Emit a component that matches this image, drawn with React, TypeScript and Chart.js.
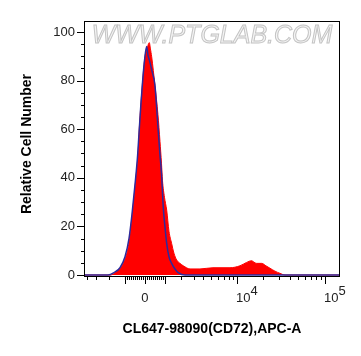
import React, { useEffect, useRef } from "react";
import { Chart, registerables } from "chart.js";

Chart.register(...registerables);

// Biexponential (arcsinh) display transform for the fluorescence axis
const WIDTH_C = 1830;
const toDisp = (v: number) => Math.asinh(v / WIDTH_C) / Math.LN10;

// Axis range (fluorescence intensity)
const X_MIN = -4300;
const X_MAX = 148000;
const Y_MIN = -0.4;
const Y_MAX = 104.5;

// Sample histogram (red, filled): x in display units, y in % of max
const sampleX = [-0.691, -0.396, -0.32, -0.246, -0.189, -0.151, -0.105, -0.076, -0.065, -0.045, -0.026, 0, 0.023, 0.049, 0.062, 0.076, 0.113, 0.147, 0.17, 0.187, 0.198, 0.221, 0.246, 0.272, 0.302, 0.328, 0.359, 0.396, 0.434, 0.51, 0.623, 0.77, 0.963, 1.076, 1.152, 1.208, 1.234, 1.265, 1.322, 1.37, 1.416, 1.472, 1.529, 1.586, 2.208];
const sampleY = [0, 0, 1.4, 4.8, 11.6, 22.6, 39, 51.4, 59.7, 70.8, 80, 89.8, 93, 95.6, 93, 89.8, 78, 66, 55, 46, 39, 32, 26.7, 18, 13, 9, 6.2, 4.8, 3.8, 2.5, 2.5, 3, 3, 3.8, 5.2, 5.9, 5.3, 4.8, 4.8, 3.8, 2.8, 1.6, 0.7, 0, 0];

// Control histogram (blue line)
const controlX = [-0.691, -0.419, -0.351, -0.283, -0.226, -0.181, -0.147, -0.108, -0.083, -0.065, -0.045, -0.026, -0.006, 0.019, 0.034, 0.049, 0.079, 0.113, 0.147, 0.17, 0.187, 0.207, 0.226, 0.246, 0.272, 0.302, 0.34, 0.377, 0.453, 2.208];
const controlY = [0, 0, 1, 3, 7.5, 15, 25, 39, 49.4, 59.7, 70.8, 80, 88, 94, 90.5, 88.5, 84, 78, 61, 49.4, 42, 28, 20, 13, 7.5, 4.8, 2.5, 1, 0, 0];

// X axis ticks (intensity values)
const xMajorTicks = [-1000, 0, 1000, 10000, 100000];
const xMinorTicks = [-4000, -3000, -2000, -900, -800, -700, -600, -500, -400, -300, -200, -100, 100, 200, 300, 400, 500, 600, 700, 800, 900, 2000, 3000, 4000, 5000, 6000, 7000, 8000, 9000, 20000, 30000, 40000, 50000, 60000, 70000, 80000, 90000];
const xTickLabels = [
  { v: 0, base: "0", exp: "" },
  { v: 10000, base: "10", exp: "4" },
  { v: 100000, base: "10", exp: "5" },
];

// Y axis ticks
const yMajorTicks = [0, 20, 40, 60, 80, 100];
const yMinorTicks = [5, 10, 15, 25, 30, 35, 45, 50, 55, 65, 70, 75, 85, 90, 95];

const xTitle = "CL647-98090(CD72),APC-A";
const yTitle = "Relative Cell Number";
const watermark = "WWW.PTGLAB.COM";

const FONT = "'Liberation Sans', Arial, sans-serif";

const decorPlugin = {
  id: "decor",
  beforeDatasetsDraw(chart: any) {
    const { ctx, chartArea } = chart;
    ctx.save();
    ctx.font = `italic 25px ${FONT}`;
    ctx.textAlign = "center";
    ctx.textBaseline = "alphabetic";
    ctx.lineWidth = 1;
    ctx.strokeStyle = "#c4c4c4";
    ctx.fillStyle = "#f4f4f4";
    const cx = (chartArea.left + chartArea.right) / 2;
    ctx.fillText(watermark, cx, chartArea.top + 22);
    ctx.strokeText(watermark, cx, chartArea.top + 22);
    ctx.restore();
  },
  afterDraw(chart: any) {
    const { ctx, chartArea, scales } = chart;
    const xs = scales.x;
    const ys = scales.y;
    const { left, right, top, bottom } = chartArea;
    ctx.save();
    ctx.strokeStyle = "#000";
    ctx.lineWidth = 1;
    ctx.strokeRect(left + 0.5, top + 0.5, right - left - 1, bottom - top);

    // x ticks
    ctx.beginPath();
    xMinorTicks.forEach((v) => {
      const px = Math.round(xs.getPixelForValue(toDisp(v))) + 0.5;
      ctx.moveTo(px, bottom);
      ctx.lineTo(px, bottom + 4);
    });
    xMajorTicks.forEach((v) => {
      const px = Math.round(xs.getPixelForValue(toDisp(v))) + 0.5;
      ctx.moveTo(px, bottom);
      ctx.lineTo(px, bottom + 8);
    });
    // y ticks
    yMinorTicks.forEach((v) => {
      const py = Math.round(ys.getPixelForValue(v)) + 0.5;
      ctx.moveTo(left - 3, py);
      ctx.lineTo(left, py);
    });
    yMajorTicks.forEach((v) => {
      const py = Math.round(ys.getPixelForValue(v)) + 0.5;
      ctx.moveTo(left - 7, py);
      ctx.lineTo(left, py);
    });
    ctx.stroke();

    // x tick labels
    ctx.fillStyle = "#222";
    ctx.textBaseline = "alphabetic";
    xTickLabels.forEach((t) => {
      const px = xs.getPixelForValue(toDisp(t.v));
      ctx.font = `13px ${FONT}`;
      if (!t.exp) {
        ctx.textAlign = "center";
        ctx.fillText(t.base, px, bottom + 26);
      } else {
        ctx.textAlign = "left";
        ctx.fillText(t.base, px - 1, bottom + 26);
        const w = ctx.measureText(t.base).width;
        ctx.fillText(t.exp, px - 1 + w, bottom + 19);
      }
    });

    // titles
    ctx.fillStyle = "#000";
    ctx.font = `bold 14px ${FONT}`;
    ctx.textAlign = "center";
    ctx.textBaseline = "middle";
    ctx.fillText(xTitle, (left + right) / 2, 329);
    ctx.save();
    ctx.translate(27, 144);
    ctx.rotate(-Math.PI / 2);
    ctx.fillText(yTitle, 0, 0);
    ctx.restore();
    ctx.restore();
  },
};

export default function App() {
  const ref = useRef<HTMLCanvasElement | null>(null);

  useEffect(() => {
    if (!ref.current) return;
    const chart = new Chart(ref.current, {
      type: "line",
      data: {
        datasets: [
          {
            label: "Control",
            data: controlX.map((x, i) => ({ x, y: controlY[i] })),
            borderColor: "#2d2a9c",
            borderWidth: 1.5,
            pointRadius: 0,
            fill: false,
            cubicInterpolationMode: "monotone",
            order: 0,
          },
          {
            label: "CD72",
            data: sampleX.map((x, i) => ({ x, y: sampleY[i] })),
            borderColor: "#ff0000",
            backgroundColor: "#ff0000",
            borderWidth: 1,
            pointRadius: 0,
            fill: "origin",
            cubicInterpolationMode: "monotone",
            order: 1,
          },
        ],
      },
      options: {
        animation: false,
        responsive: true,
        maintainAspectRatio: false,
        layout: { padding: { left: 0, top: 21, right: 21, bottom: 0 } },
        plugins: { legend: { display: false }, tooltip: { enabled: false } },
        scales: {
          x: {
            type: "linear",
            min: toDisp(X_MIN),
            max: toDisp(X_MAX),
            grid: { display: false, drawTicks: false },
            border: { display: false },
            ticks: { display: false },
            afterFit: (s: any) => {
              s.height = 80;
            },
          },
          y: {
            type: "linear",
            min: Y_MIN,
            max: Y_MAX,
            grid: { display: false, drawTicks: false },
            border: { display: false },
            afterBuildTicks: (s: any) => {
              s.ticks = yMajorTicks.map((v) => ({ value: v }));
            },
            ticks: {
              padding: 9,
              color: "#222",
              font: { family: FONT, size: 13 },
              callback: (v: any) => String(v),
            },
            afterFit: (s: any) => {
              s.width = 84;
            },
          },
        },
      },
      plugins: [decorPlugin],
    });
    return () => chart.destroy();
  }, []);

  return (
    <div style={{ position: "fixed", left: 0, top: 0, width: 361, height: 356, background: "#fff" }}>
      <canvas ref={ref} />
    </div>
  );
}
